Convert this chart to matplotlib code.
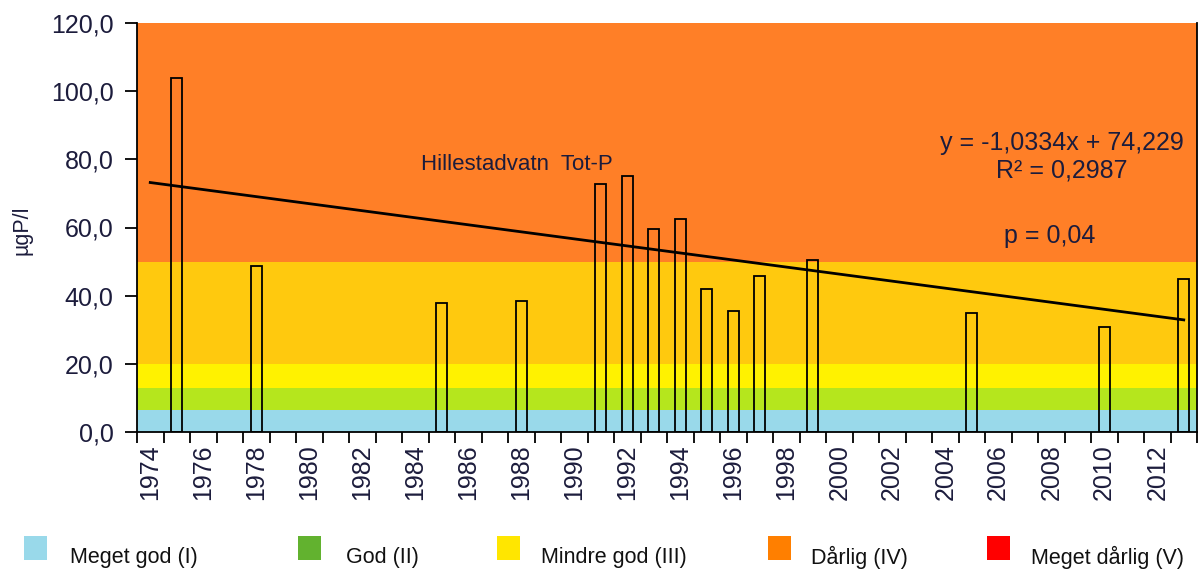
import matplotlib
matplotlib.use("Agg")
import matplotlib.pyplot as plt
from matplotlib.patches import Rectangle
import numpy as np

plt.rcParams['font.family'] = ['Liberation Sans', 'DejaVu Sans']

# ---- data ----
years = list(range(1974, 2014))
bar_years = [1975, 1978, 1985, 1988, 1991, 1992, 1993, 1994, 1995, 1996, 1997, 1999, 2005, 2010, 2013]
bar_values = [103.8, 48.6, 37.8, 38.3, 72.7, 75.0, 59.5, 62.6, 41.9, 35.4, 45.8, 50.5, 34.9, 30.8, 44.8]
trend_slope = -1.0334
trend_intercept = 74.229
band_edges = [0, 6.5, 12.8, 20, 50, 120]
band_colors = ['#99D9EA', '#B5E61D', '#FFF200', '#FFC90E', '#FF7F27']
legend_labels = ['Meget god (I)', 'God (II)', 'Mindre god (III)', 'Dårlig (IV)', 'Meget dårlig (V)']
legend_colors = ['#99D9EA', '#62B22F', '#FFE600', '#FF7F00', '#FF0000']
yticks = [0, 20, 40, 60, 80, 100, 120]

txt_color = '#1c1c3c'

fig = plt.figure(figsize=(12, 5.69), dpi=100)
ax = fig.add_axes([137/1200, 1-432/569, (1197-137)/1200, (432-23)/569])

# background bands
for lo, hi, c in zip(band_edges[:-1], band_edges[1:], band_colors):
    ax.axhspan(lo, hi, color=c, lw=0, zorder=0)

# bars (category axis)
idx = {y: i for i, y in enumerate(years)}
xpos = [idx[y] for y in bar_years]
ax.bar(xpos, bar_values, width=0.42, facecolor='none', edgecolor='black', linewidth=1.3, zorder=2)

# trend line
xs = np.arange(1, len(years) + 1)
ax.plot(xs - 1, trend_slope * xs + trend_intercept, color='black', lw=2.0, zorder=3)

ax.set_xlim(-0.5, len(years) - 0.5)
ax.set_ylim(0, 120)

ax.set_yticks(yticks)
ax.set_yticklabels([f"{v:.1f}".replace('.', ',') for v in yticks], fontsize=18, color=txt_color)
ax.tick_params(axis='y', direction='out', length=9, width=1.3, pad=8)

ax.set_xticks(np.arange(-0.5, len(years), 1.0))
ax.set_xticklabels([])
ax.set_xticks(np.arange(0, len(years), 2), minor=True)
ax.set_xticklabels([str(years[i]) for i in range(0, len(years), 2)], minor=True,
                   rotation=90, fontsize=18, color=txt_color)
ax.tick_params(axis='x', which='major', direction='out', length=8, width=1.3)
ax.tick_params(axis='x', which='minor', length=0, pad=9)

for s in ['top']:
    ax.spines[s].set_visible(False)
for s in ['left', 'bottom', 'right']:
    ax.spines[s].set_linewidth(1.3)

fig.text(22/1200, 1-230/569, 'µgP/l', rotation=90, ha='center', va='center', fontsize=15.5, color=txt_color)

ax.text(421/1200, 1-165/569, 'Hillestadvatn  Tot-P', transform=fig.transFigure,
        ha='left', va='center', fontsize=16, color=txt_color)
ax.text(1062/1200, 1-143/569, 'y = -1,0334x + 74,229', transform=fig.transFigure,
        ha='center', va='center', fontsize=18, color=txt_color)
ax.text(1062/1200, 1-171/569, 'R² = 0,2987', transform=fig.transFigure,
        ha='center', va='center', fontsize=18, color=txt_color)
ax.text(1050/1200, 1-236/569, 'p = 0,04', transform=fig.transFigure,
        ha='center', va='center', fontsize=18, color=txt_color)

# legend
sq_x = [24, 298, 497, 768, 987]
tx_x = [70, 346, 541, 811, 1031]
for sx, tx, lab, c in zip(sq_x, tx_x, legend_labels, legend_colors):
    fig.patches.append(Rectangle((sx/1200, 1-560/569), 23/1200, 24/569, transform=fig.transFigure,
                                 facecolor=c, edgecolor='none'))
    fig.text(tx/1200, 1-557/569, lab, ha='left', va='center', fontsize=15.5, color='#111111')

fig.savefig('out.png', dpi=100)
